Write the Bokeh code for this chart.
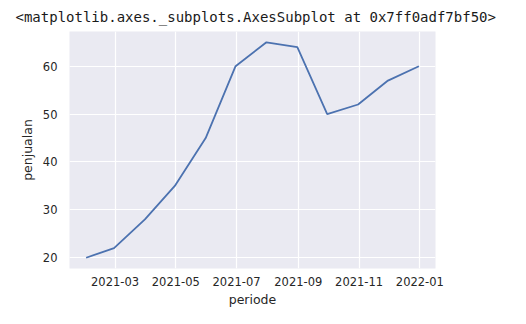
import pandas as pd
from bokeh.plotting import figure
from bokeh.models import FixedTicker, DatetimeTickFormatter, Range1d
from bokeh.embed import file_html
from bokeh.resources import INLINE

periode = ["2021-01-31", "2021-02-28", "2021-03-31", "2021-04-30", "2021-05-31", "2021-06-30",
           "2021-07-31", "2021-08-31", "2021-09-30", "2021-10-31", "2021-11-30", "2021-12-31"]
penjualan = [20, 22, 28, 35, 45, 60, 65, 64, 50, 52, 57, 60]
x_ticks = ["2021-03-01", "2021-05-01", "2021-07-01", "2021-09-01", "2021-11-01", "2022-01-01"]
y_ticks = [20, 30, 40, 50, 60]
header = "<matplotlib.axes._subplots.AxesSubplot at 0x7ff0adf7bf50>"

dates = pd.to_datetime(periode)
span = dates.max() - dates.min()
x0 = dates.min() - span * 0.05
x1 = dates.max() + span * 0.05
ymin, ymax = min(penjualan), max(penjualan)
yr = ymax - ymin

p = figure(width=526, height=324, x_axis_type="datetime", output_backend="svg",
           toolbar_location=None,
           x_range=Range1d(x0, x1), y_range=Range1d(ymin - 0.05 * yr, ymax + 0.05 * yr),
           min_border_left=69, min_border_right=91, min_border_top=31, min_border_bottom=56)

p.title.text = header
p.title.text_font = "DejaVu Sans Mono"
p.title.text_font_size = "14px"
p.title.text_font_style = "normal"
p.title.text_color = "#1a1a1a"
p.title.align = "left"
p.title.offset = -54
p.title.standoff = 13

p.background_fill_color = "#EAEAF2"
p.border_fill_color = "white"
p.outline_line_color = None

p.line(dates, penjualan, line_color="#4C72B0", line_width=1.8)

tick_ms = [pd.Timestamp(t).value / 1e6 for t in x_ticks]
p.xaxis.ticker = FixedTicker(ticks=tick_ms)
p.xaxis.formatter = DatetimeTickFormatter(days="%Y-%m", months="%Y-%m", years="%Y-%m")
p.yaxis.ticker = FixedTicker(ticks=y_ticks)

for ax in (p.xaxis[0], p.yaxis[0]):
    ax.axis_line_color = None
    ax.major_tick_line_color = None
    ax.minor_tick_line_color = None
    ax.major_tick_out = 0
    ax.major_tick_in = 0
    ax.minor_tick_out = 0
    ax.minor_tick_in = 0
    ax.major_label_text_font = "DejaVu Sans"
    ax.major_label_text_font_size = "11.5px"
    ax.major_label_text_color = "#262626"
    ax.axis_label_text_font = "DejaVu Sans"
    ax.axis_label_text_font_size = "12.5px"
    ax.axis_label_text_color = "#262626"
    ax.axis_label_text_font_style = "normal"

p.xaxis.axis_label = "periode"
p.yaxis.axis_label = "penjualan"
p.xaxis.major_label_standoff = 8
p.yaxis.major_label_standoff = 12
p.xaxis.axis_label_standoff = 3
p.yaxis.axis_label_standoff = 5

p.xgrid.grid_line_color = "white"
p.ygrid.grid_line_color = "white"
p.xgrid.grid_line_width = 1.2
p.ygrid.grid_line_width = 1.2
p.xgrid.minor_grid_line_color = None
p.ygrid.minor_grid_line_color = None

open("out.html", "w").write(file_html(p, INLINE))
